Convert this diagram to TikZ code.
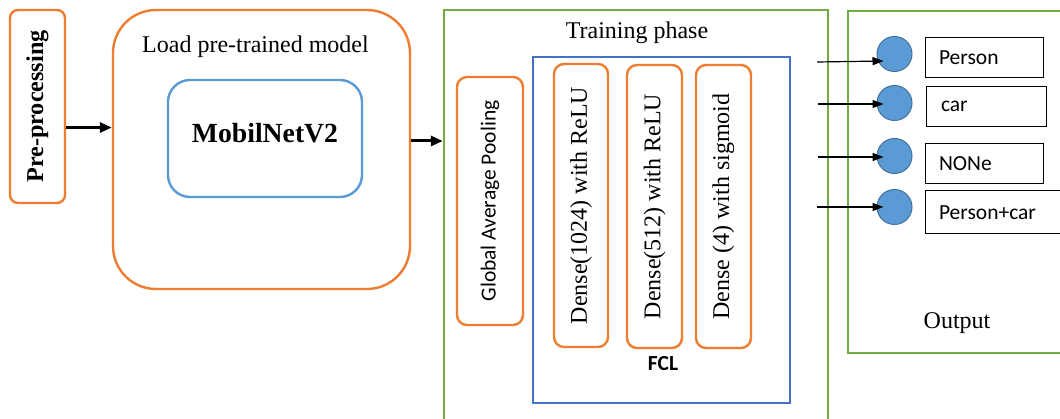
\documentclass[tikz,border=0pt]{standalone}
\usepackage{fontspec}
\setmainfont{Liberation Serif}
\newfontfamily\calibri{Carlito}
\usetikzlibrary{arrows.meta,calc}
\definecolor{orng}{HTML}{ED7D31}
\definecolor{bluel}{HTML}{5B9BD5}
\definecolor{bluef}{HTML}{4472C4}
\definecolor{bluedk}{HTML}{41719C}
\definecolor{grn}{HTML}{70AD47}
\begin{document}
\begin{tikzpicture}[x=1pt,y=-1pt,
  obox/.style={draw=orng, line width=2.4pt, rounded corners=#1, inner sep=0pt},
  obox/.default=10pt,
  frame/.style={draw=#1, line width=2.4pt, inner sep=0pt},
  serif/.style={font=\fontsize{24}{28}\selectfont, inner sep=0pt},
  sans/.style={font=\calibri\fontsize{21.5}{24}\selectfont, inner sep=0pt},
  bigarrow/.style={line width=3pt, -{Triangle[length=12pt,width=10pt]}},
  thinarrow/.style={line width=1.2pt, -{Triangle[length=11pt,width=8pt]}},
  neuron/.style={circle, fill=bluel, draw=bluedk, line width=1pt, minimum size=35pt, inner sep=0pt},
  classbox/.style={draw=black, line width=1pt, minimum height=40pt, inner xsep=14pt,
    text width=90pt, align=left, font=\calibri\fontsize{21.5}{24}\selectfont}
]
\clip (0,0) rectangle (1060,419);
\fill[white] (0,0) rectangle (1060,419);

% pre-processing and backbone
\node[obox=8pt, minimum width=55pt, minimum height=193pt, font=\fontsize{24.2}{28}\selectfont\bfseries]
  (pre) at (37.5,106.5) {\rotatebox{90}{Pre-processing}};
\node[obox=43pt, minimum width=297pt, minimum height=279pt] (load) at (261.5,149.5) {};
\node[serif] (loadtxt) at (255.5,47) {Load pre-trained model};
\node[frame=bluel, rounded corners=22pt, minimum width=194pt, minimum height=117pt] (mob) at (265,138.5) {};
\node[inner sep=0pt, font=\fontsize{27.7}{30}\selectfont\bfseries] (mobtxt) at (265,133) {MobilNetV2};

% training phase
\node[frame=grn, minimum width=384pt, minimum height=420pt] (train) at (636,220) {};
\node[serif] (traintxt) at (637,33) {Training phase};
\node[frame=bluef, minimum width=257pt, minimum height=346pt] (fcl) at (661.5,230) {};
\node[inner sep=0pt, font=\calibri\fontsize{21.5}{24}\selectfont\bfseries] (fcltxt) at (663,364) {FCL};
\node[obox, minimum width=66pt, minimum height=248pt, sans] (gap) at (490,201)
  {\rotatebox{90}{Global Average Pooling}};
\node[obox, minimum width=54pt, minimum height=283pt, serif] (d1) at (581,205.5)
  {\rotatebox{90}{Dense(1024) with ReLU}};
\node[obox, minimum width=55pt, minimum height=283pt, serif] (d2) at (654.5,206.5)
  {\rotatebox{90}{Dense(512) with ReLU}};
\node[obox, minimum width=55pt, minimum height=283pt, serif] (d3) at (723.5,206.5)
  {\rotatebox{90}{Dense (4) with sigmoid}};

% output
\node[frame=grn, minimum width=227pt, minimum height=342pt] (out) at (961.5,182) {};
\node[serif] (outtxt) at (957,323) {Output};
\node[neuron] (c1) at (894.5,54) {};
\node[neuron] (c2) at (894.5,103) {};
\node[neuron] (c3) at (894.5,156) {};
\node[neuron] (c4) at (894.5,207) {};
\node[classbox] (l1) at (984,58) {Person};
\node[classbox, text width=91pt, inner xsep=14.5pt] (l2) at (986.5,106.5) {car};
\node[classbox] (l3) at (984,163.5) {NONe};
\node[classbox, minimum height=43pt, text width=122pt] (l4) at (1000,212.5) {Person+car};

\coordinate (s1) at (817,62);
\coordinate (s2) at (818,104);
\coordinate (s3) at (818,157);
\coordinate (s4) at (817,207);

% connectors
\draw[bigarrow] ([yshift=-21pt]pre.east) -- ([yshift=-21pt]pre.east -| load.west);
\draw[bigarrow] ([yshift=8.5pt]load.east) -- ([yshift=8.5pt]load.east -| train.west);
\draw[thinarrow] (s1) -- ($(c1.center)+(-11,7)$);
\draw[thinarrow] (s2) -- ($(c2.center)+(-11,1)$);
\draw[thinarrow] (s3) -- ($(c3.center)+(-11,1)$);
\draw[thinarrow] (s4) -- ($(c4.center)+(-11,0)$);
\end{tikzpicture}
\end{document}
